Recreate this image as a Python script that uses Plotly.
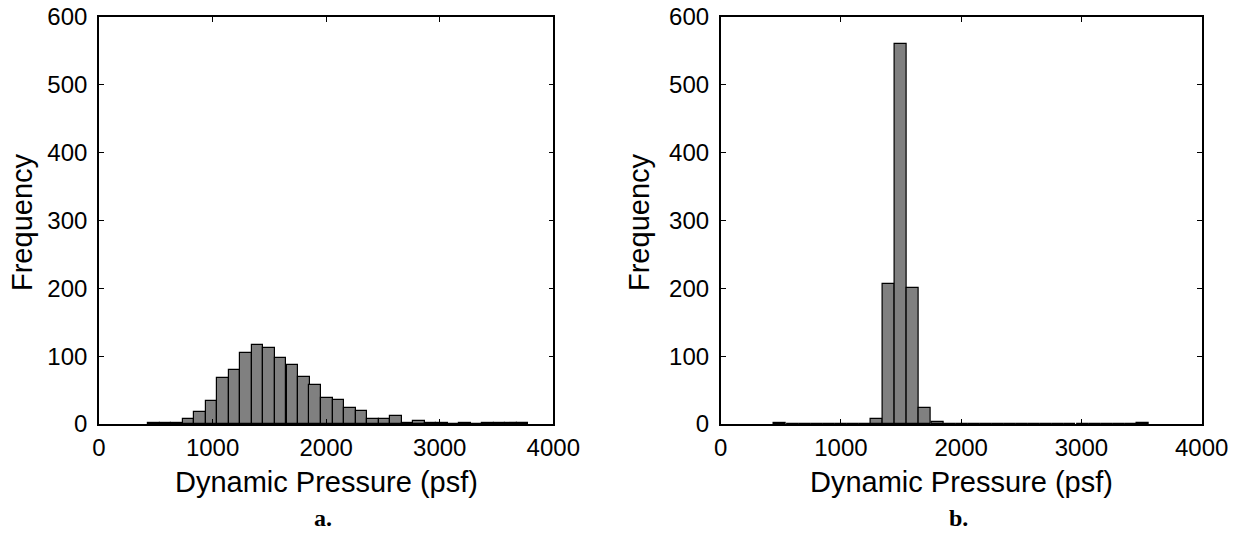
import plotly.graph_objects as go

# ---------------- data ----------------
# Panel a: 33 bins spanning ~434..3780 psf
left_centers = [485, 586, 688, 789, 890, 992, 1093, 1195, 1296, 1397, 1499,
                1600, 1702, 1803, 1904, 2006, 2107, 2209, 2310, 2411, 2513,
                2614, 2716, 2817, 2918, 3020, 3121, 3223, 3324, 3425, 3527,
                3628, 3730]
left_counts = [1, 1, 2, 7, 17, 34, 68, 80, 104, 117, 112,
               97, 87, 70, 58, 39, 36, 24, 19, 7, 7,
               12, 1, 4, 1, 1, 0, 1, 0, 1, 1,
               1, 1]
left_width = 101.4

# Panel b: 31 bins spanning ~444..3561 psf
right_centers = [494, 595, 695, 796, 896, 997, 1097, 1198, 1298, 1399, 1499,
                 1600, 1700, 1801, 1901, 2002, 2102, 2203, 2303, 2404, 2504,
                 2605, 2705, 2806, 2906, 3007, 3107, 3208, 3308, 3409, 3510]
right_counts = [1, 0, 0, 0, 0, 0, 0, 0, 8, 207, 560,
                200, 23, 3, 0, 0, 0, 0, 0, 0, 0,
                0, 0, 0, 0, 0, 0, 0, 0, 0, 1]
right_width = 100.5

x_ticks = [0, 1000, 2000, 3000, 4000]
y_ticks = [0, 100, 200, 300, 400, 500, 600]
x_title = "Dynamic Pressure (psf)"
y_title = "Frequency"
panel_labels = ["a.", "b."]

# ---------------- figure ----------------
W, H = 1242, 536
FONT = "Liberation Sans, Arial, sans-serif"

fig = go.Figure()
bar_style = dict(marker=dict(color="#808080", line=dict(color="black", width=1.2)),
                 showlegend=False, hoverinfo="x+y")
fig.add_trace(go.Bar(x=left_centers, y=left_counts, width=left_width,
                     xaxis="x", yaxis="y", **bar_style))
fig.add_trace(go.Bar(x=right_centers, y=right_counts, width=right_width,
                     xaxis="x2", yaxis="y2", **bar_style))

def px_x(p):
    return p / W

def px_y(p):
    return 1 - p / H

axis_common = dict(
    showline=True, linecolor="black", linewidth=1.6, mirror="ticks",
    ticks="inside", ticklen=5, tickwidth=1, tickcolor="black",
    showgrid=False, zeroline=False, automargin=False,
    ticklabeloverflow="allow",
    tickfont=dict(family=FONT, size=24, color="black"),
)

ydom = [px_y(424), px_y(17)]
fig.update_layout(
    width=W, height=H,
    margin=dict(l=0, r=0, t=0, b=0, autoexpand=False),
    plot_bgcolor="white", paper_bgcolor="white",
    bargap=0,
    xaxis=dict(domain=[px_x(99), px_x(553.3)], range=[0, 4000],
               tickvals=x_ticks, ticklabelstandoff=1, anchor="y", **axis_common),
    yaxis=dict(domain=ydom, range=[0, 600], tickvals=y_ticks,
               ticklabelstandoff=5, anchor="x", **axis_common),
    xaxis2=dict(domain=[px_x(720.7), px_x(1201.7)], range=[0, 4000],
                tickvals=x_ticks, ticklabelstandoff=1, anchor="y2", **axis_common),
    yaxis2=dict(domain=ydom, range=[0, 600], tickvals=y_ticks,
                ticklabelstandoff=5, anchor="x2", **axis_common),
)

annots = []
centers_x = [(99 + 553.3) / 2, (720.7 + 1201.7) / 2]
ytitle_x = [22, 639]
for i in range(2):
    annots.append(dict(text=x_title, x=px_x(centers_x[i]), y=px_y(482),
                       xref="paper", yref="paper", showarrow=False,
                       xanchor="center", yanchor="middle",
                       font=dict(family=FONT, size=29, color="black")))
    annots.append(dict(text=y_title, x=px_x(ytitle_x[i]), y=px_y(222),
                       xref="paper", yref="paper", showarrow=False, textangle=-90,
                       xanchor="center", yanchor="middle",
                       font=dict(family=FONT, size=29, color="black")))
    annots.append(dict(text="<b>" + panel_labels[i] + "</b>", x=px_x(centers_x[i] - 3),
                       y=px_y(518), xref="paper", yref="paper", showarrow=False,
                       xanchor="center", yanchor="middle",
                       font=dict(family="Liberation Serif, Times New Roman, serif",
                                 size=24, color="black")))
fig.update_layout(annotations=annots)

fig.write_html("out.html",
               config={"displayModeBar": False},
               post_script="document.body.style.margin='0';")
